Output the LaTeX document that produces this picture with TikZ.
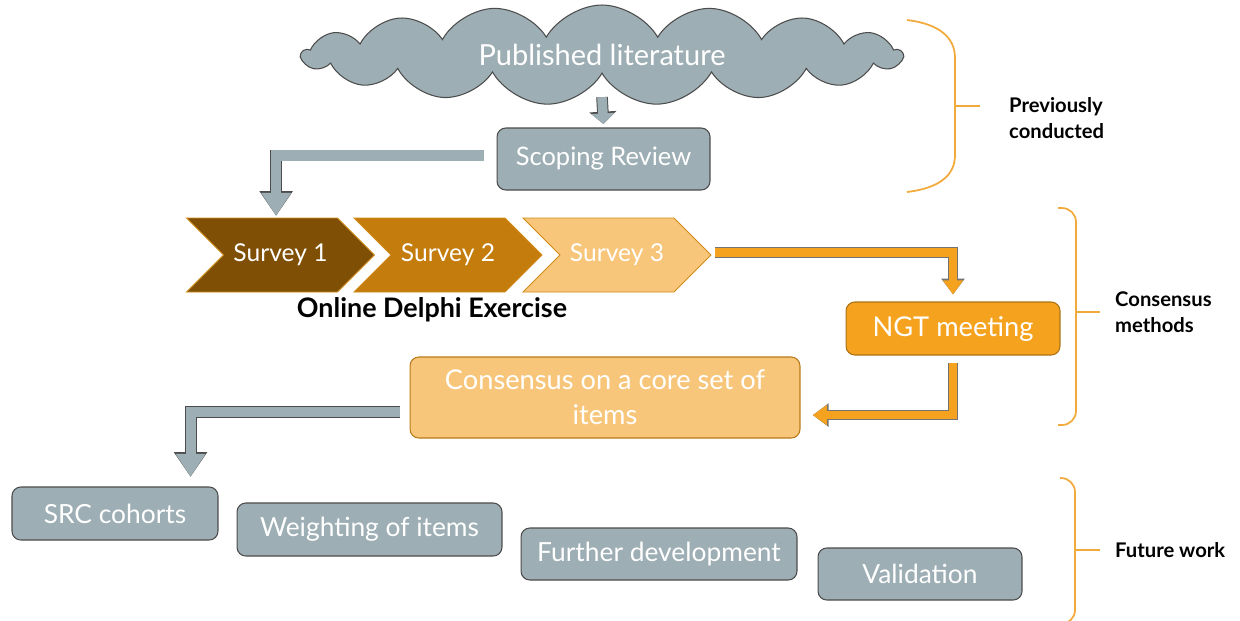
\documentclass[tikz,border=0pt]{standalone}
\usepackage{fontspec}
\setmainfont{Lato}
\usetikzlibrary{shapes.symbols,arrows.meta}

\definecolor{slate}{HTML}{9DAEB4}
\definecolor{brownA}{HTML}{7F4F06}
\definecolor{brownB}{HTML}{C47C0C}
\definecolor{peach}{HTML}{F8C67A}
\definecolor{amber}{HTML}{F5A31F}
\definecolor{bracecol}{HTML}{F2AA3C}

\tikzset{
  box/.style={rounded corners=5pt, text=white, align=center, inner sep=0pt, line width=0.6pt},
  greybox/.style={box, fill=slate, draw=black!70, font=\fontsize{15}{18}\selectfont},
  chevron/.style={signal, signal from=west, signal to=east, signal pointer angle=90,
    minimum width=3.76cm, minimum height=1.48cm, inner sep=0pt, fill=#1,
    draw=amber!85!black, line width=0.5pt, text=white, font=\fontsize{14}{16}\selectfont},
  grarrow/.style={draw=slate, line width=5.7pt, -{Triangle[length=13pt,width=16pt]},
    preaction={draw=black!70, line width=6.8pt, -{Triangle[length=14pt,width=18pt]}}},
  smallarrow/.style={draw=slate, line width=5.5pt, -{Triangle[length=6pt,width=13pt]},
    preaction={draw=black!70, line width=6.6pt, -{Triangle[length=7pt,width=15pt]}}},
  orarrow/.style={draw=amber, line width=5pt, -{Triangle[length=8pt,width=11pt]},
    preaction={draw=black!55, line width=5.9pt, -{Triangle[length=9pt,width=12.8pt]}}},
  brace/.style={draw=bracecol, line width=1pt},
  sidelabel/.style={anchor=west, align=left, font=\fontsize{11.5}{15}\selectfont\bfseries},
}

\begin{document}
\begin{tikzpicture}[x=0.02cm, y=-0.02cm]
    \useasboundingbox (0,0) rectangle (1240,620);

    % Published literature and scoping review
    \node[cloud, cloud puffs=17, cloud puff arc=120, aspect=6,
          minimum width=12cm, minimum height=2cm, fill=slate, draw=black!70,
          line width=0.6pt, text=white, font=\fontsize{16.5}{19}\selectfont]
        (cloud) at (602,55) {Published literature};
    \node[greybox, minimum width=4.26cm, minimum height=1.24cm,
          font=\fontsize{14.5}{17}\selectfont] (scope) at (603.5,159) {Scoping Review};

    % Delphi surveys
    \node[chevron=brownA] (s1) at (280.5,255) {Survey 1};
    \node[chevron=brownB] (s2) at (448,255) {Survey 2};
    \node[chevron=peach]  (s3) at (617,255) {Survey 3};
    \node[font=\fontsize{15.3}{18}\selectfont\bfseries] (delphi) at (432,310) {Online Delphi Exercise};

    % Consensus methods
    \node[box, fill=amber, draw=amber!70!black, minimum width=4.28cm, minimum height=1.06cm,
          font=\fontsize{15.5}{18}\selectfont] (ngt) at (953,328.5) {NGT meeting};
    \node[box, fill=peach, draw=amber!75!black, minimum width=7.8cm, minimum height=1.62cm,
          font=\fontsize{15.5}{20}\selectfont] (cons) at (605,397.5) {Consensus on a core set of\\items};

    % Future work
    \node[greybox, minimum width=4.12cm, minimum height=1.06cm] (src) at (115,513.5) {SRC cohorts};
    \node[greybox, minimum width=5.3cm, minimum height=1.06cm] (weight) at (369.5,529.5) {Weighting of items};
    \node[greybox, minimum width=5.52cm, minimum height=1.04cm] (further) at (659,554) {Further development};
    \node[greybox, minimum width=4.08cm, minimum height=1.04cm] (valid) at (920,574) {Validation};

    % Arrows
    \draw[smallarrow] ([yshift=-24pt]cloud.center) -- ([yshift=2pt]scope.north);
    \draw[grarrow] ([xshift=-7pt,yshift=2pt]scope.west) -| ([xshift=-2.5pt,yshift=1pt]s1.north);
    \draw[orarrow] ([xshift=2pt,yshift=1.5pt]s3.east) -| ([yshift=4pt]ngt.north);
    \draw[orarrow] ([yshift=-4.5pt]ngt.south) |- ([xshift=7pt,yshift=-10pt]cons.east);
    \draw[grarrow] ([xshift=-5.7pt,yshift=-8.2pt]cons.west) -| ([xshift=43pt,yshift=5.5pt]src.north);

    % Braces
    \draw[brace] (907,20) .. controls (940,24) and (955,38) .. (955,58) -- (955,155)
        .. controls (955,175) and (940,188) .. (907,192);
    \draw[brace] (955,106) -- (980,106);
    \draw[brace, rounded corners=8pt] (1058,208) -- (1076,208) -- (1076,425) -- (1058,425);
    \draw[brace] (1076,312) -- (1100,312);
    \draw[brace, rounded corners=8pt] (1060,478) -- (1075,478) -- (1075,624) -- (1060,624);
    \draw[brace] (1075,550) -- (1100,550);

    \node[sidelabel] (prev) at (1003,118) {Previously\\conducted};
    \node[sidelabel] (methods) at (1109,312) {Consensus\\methods};
    \node[sidelabel] (future) at (1109,550) {Future work};
\end{tikzpicture}
\end{document}
